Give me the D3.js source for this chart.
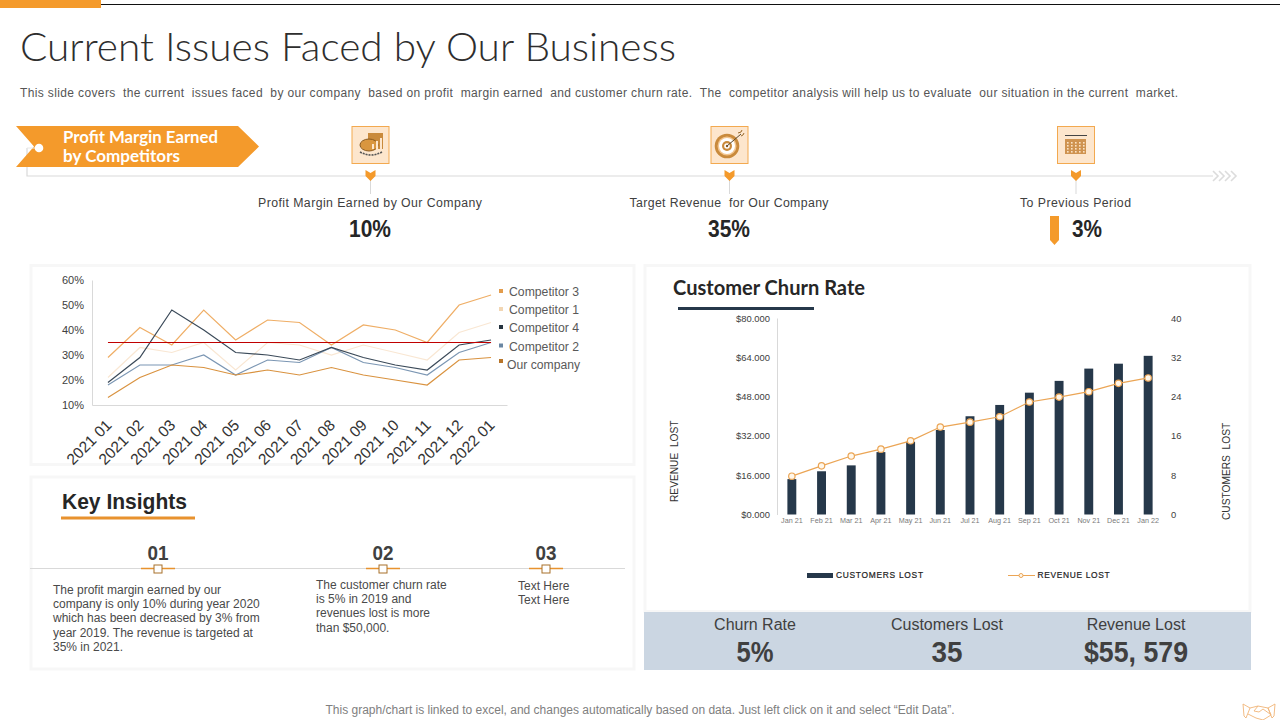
<!DOCTYPE html>
<html>
<head>
<meta charset="utf-8">
<script src="https://cdn.jsdelivr.net/npm/d3@7"></script>
<style>
html, body { margin: 0; padding: 0; background: #fff; }
svg { display: block; font-family: "Liberation Sans", Arial, sans-serif; }
.geo { font-family: Lato, "Open Sans", sans-serif; }
.tick line { display: none; }
</style>
</head>
<body>
<div id="viz"></div>
<script>
// line chart data (percent)
const months = ["2021 01","2021 02","2021 03","2021 04","2021 05","2021 06","2021 07","2021 08","2021 09","2021 10","2021 11","2021 12","2022 01"];
const competitor1 = [21,33,31,35,24,35,34,30,34,31,28,39,43];
const competitor2 = [18,26,26,30,22,28,27,33,27,25,22,31,35];
const competitor3 = [29,41,34,48,36,44,43,34,42,40,35,50,54];
const competitor4 = [19,29,48,40,31,30,28,33,29,26,24,34,36];
const ourCompany = [13,21,26,25,22,24,22,25,22,20,18,28,29];
const targetLine = [35,35,35,35,35,35,35,35,35,35,35,35,35];
const percentTicks = [10,20,30,40,50,60];

// churn chart data
const churnMonths = ["Jan 21","Feb 21","Mar 21","Apr 21","May 21","Jun 21","Jul 21","Aug 21","Sep 21","Oct 21","Nov 21","Dec 21","Jan 22"];
const customersLost = [7.2,8.8,10,12.7,14.8,17.2,20,22.3,24.8,27.2,29.7,30.7,32.3];
const revenueLost = [15.6,19.8,23.8,26.6,30,35.6,37.6,39.8,45.8,47.8,50,53.4,55.6];
const revenueTicks = [0,16,32,48,64,80];
const customerTicks = [0,8,16,24,32,40];

// text blocks
const kpiLabels = ["Profit Margin Earned by Our Company","Target Revenue  for Our Company","To Previous Period"];
const kpiValues = ["10%","35%","3%"];
const insightNumbers = ["01","02","03"];
const insightText = [
  ["The profit margin earned by our","company is only 10% during year 2020","which has been decreased by 3% from","year 2019. The revenue is targeted at","35% in 2021."],
  ["The customer churn rate","is 5% in 2019 and","revenues lost is more","than $50,000."],
  ["Text Here","Text Here"]
];
const summaryLabels = ["Churn Rate","Customers Lost","Revenue Lost"];
const summaryValues = ["5%","35","$55, 579"];

const orange = "#f49a2b";
const navy = "#26384a";

const svg = d3.select("#viz").append("svg").attr("width", 1280).attr("height", 720);

function label(x, y, str, size, o) {
  o = o || {};
  const t = svg.append("text").attr("x", x).attr("y", y).text(str)
    .attr("font-size", size)
    .attr("fill", o.fill || "#404040")
    .attr("font-weight", o.weight || 400)
    .attr("text-anchor", o.anchor || "start");
  if (o.cls) t.attr("class", o.cls);
  if (o.len) t.attr("textLength", o.len);
  if (o.squeeze) t.attr("textLength", o.squeeze).attr("lengthAdjust", "spacingAndGlyphs");
  if (o.rotate) t.attr("transform", `rotate(${o.rotate} ${x} ${y})`);
  return t;
}

// top strip
svg.append("rect").attr("x", 0).attr("y", 0).attr("width", 101).attr("height", 8).attr("fill", orange);
svg.append("line").attr("x1", 101).attr("x2", 1280).attr("y1", 4.5).attr("y2", 4.5).attr("stroke", "#111").attr("stroke-width", 1);

label(20, 61, "Current Issues Faced by Our Business", 40, { cls: "geo", fill: "#2e2e2e", weight: 300, squeeze: 656 });
label(20, 97, "This slide covers  the current  issues faced  by our company  based on profit  margin earned  and customer churn rate.  The  competitor analysis will help us to evaluate  our situation in the current  market.", 12, { fill: "#555", len: 1158 }).attr("xml:space", "preserve");

// panels
[[31,265.5,603,199],[31,477,603,192],[645,265.5,605,346]].forEach(p => {
  svg.append("rect").attr("x", p[0]).attr("y", p[1]).attr("width", p[2]).attr("height", p[3])
    .attr("fill", "none").attr("stroke", "#f7f7f7").attr("stroke-width", 3);
});

// timeline
svg.append("path").attr("d", "M27 148V176H1213").attr("fill", "none").attr("stroke", "#d9d9d9").attr("stroke-width", 1.2);
[1213,1219,1225,1231].forEach(x => {
  svg.append("path").attr("d", `M${x} 171l5 5l-5 5`).attr("fill", "none").attr("stroke", "#dcdcdc").attr("stroke-width", 1.6);
});
svg.append("path").attr("d", "M16 126H238L259 146.5L238 167H16L34 146.5Z").attr("fill", orange);
svg.append("path").attr("d", "M27 148H35").attr("stroke", "#e8e8e8");
svg.append("circle").attr("cx", 39).attr("cy", 148).attr("r", 4.3).attr("fill", "#fff");
label(63, 143, "Profit Margin Earned", 17, { cls: "geo", fill: "#fff", weight: 700, squeeze: 155 });
label(63, 162, "by Competitors", 17, { cls: "geo", fill: "#fff", weight: 700, squeeze: 117 });

// KPI row
const kpiX = [370.5, 729.5, 1076];
kpiX.forEach((x, i) => {
  svg.append("rect").attr("x", x - 18.5).attr("y", 126.5).attr("width", 37).attr("height", 37)
    .attr("fill", "#fde6cd").attr("stroke", "#f3a94f").attr("stroke-width", 1);
  svg.append("line").attr("x1", x).attr("x2", x).attr("y1", 176).attr("y2", 194).attr("stroke", "#d9d9d9");
  svg.append("path").attr("d", `M${x-5} 170L${x} 173L${x+5} 170V176L${x} 181L${x-5} 176Z`).attr("fill", orange);
  if (i < 2) {
    label(x - 0.5, 207, kpiLabels[i], 12.3, { anchor: "middle", fill: "#404040", len: i == 0 ? 224 : 199 }).attr("xml:space", "preserve");
    label(x - 0.5, 237, kpiValues[i], 24, { anchor: "middle", fill: "#262626", weight: 700, squeeze: 42 });
  }
});
label(1075.5, 207, kpiLabels[2], 12.3, { anchor: "middle", fill: "#404040", len: 111 });
label(1072, 237, kpiValues[2], 24, { fill: "#262626", weight: 700, squeeze: 30 });
svg.append("path").attr("d", "M1050 216H1059V240L1054.5 245L1050 240Z").attr("fill", orange);

// icon 1: chart on coin stack
const ic1 = svg.append("g").attr("fill", "none");
ic1.append("rect").attr("x", 368).attr("y", 133).attr("width", 15).attr("height", 16).attr("fill", "#c98a3c");
ic1.append("ellipse").attr("cx", 369).attr("cy", 145).attr("rx", 9).attr("ry", 6).attr("fill", "#d9963f").attr("stroke", "#8a5a20");
[372,376,380].forEach((x, i) => ic1.append("rect").attr("x", x).attr("y", 144 - i * 3).attr("width", 2).attr("height", 5 + i * 3).attr("fill", "#fde6cd"));
ic1.append("path").attr("d", "M360 152Q371 158 382 152").attr("stroke", "#555").attr("stroke-width", 1.6).attr("stroke-dasharray", "2 1");
// icon 2: target
const ic2 = svg.append("g");
[[12.3,"#c98a3c"],[9.5,"#f3c58e"],[8,"#fff"],[5,"#c98a3c"],[2.8,"#fff"],[1.2,"#8a5a20"]].forEach(c => {
  ic2.append("circle").attr("cx", 727).attr("cy", 146).attr("r", c[0]).attr("fill", c[1]);
});
ic2.append("path").attr("d", "M727 146L741 134").attr("stroke", "#5a4a30").attr("stroke-width", 1);
ic2.append("path").attr("d", "M738 133l3 -1l1 -2M741 136l2 -1l1 -2").attr("stroke", "#9a6a2a").attr("fill", "none");
// icon 3: calendar
const ic3 = svg.append("g");
ic3.append("line").attr("x1", 1065).attr("x2", 1087).attr("y1", 135.5).attr("y2", 135.5).attr("stroke", "#444");
ic3.append("rect").attr("x", 1065).attr("y", 139).attr("width", 21).attr("height", 15).attr("fill", "#cf9350");
[1067,1071,1075,1079,1083].forEach(x => [142,145,148,151].forEach(y => {
  ic3.append("rect").attr("x", x).attr("y", y).attr("width", 1.6).attr("height", 1.6).attr("fill", "#fbe3c6");
}));

// ---- line chart ----
const x1 = d3.scalePoint().domain(months).range([92, 507]).padding(0.5);
const y1 = d3.scaleLinear().domain([10, 60]).range([405, 280]);
const gx1 = svg.append("g").attr("transform", "translate(0,405)").call(d3.axisBottom(x1).tickSize(0));
gx1.selectAll("text").attr("font-size", 15.5).attr("fill", "#333").attr("font-family", "Liberation Sans")
  .attr("text-anchor", "end").attr("dx", 0).attr("dy", 0)
  .attr("transform", "translate(2,19) rotate(-45)");
gx1.select(".domain").attr("stroke", "#d9d9d9");
const gy1 = svg.append("g").attr("transform", "translate(92,0)")
  .call(d3.axisLeft(y1).tickValues(percentTicks).tickSize(0).tickPadding(8).tickFormat(d => d + "%"));
gy1.selectAll("text").attr("font-size", 11).attr("fill", "#404040").attr("font-family", "Liberation Sans");
gy1.select(".domain").attr("stroke", "#d9d9d9");

const lineGen = d3.line().x((d, i) => x1(months[i])).y(d => y1(d));
const lineSeries = [
  { name: "Competitor 3", values: competitor3, color: "#efae66", key: "#e39c4c" },
  { name: "Competitor 1", values: competitor1, color: "#f9e7d3", key: "#f2d6b3" },
  { name: "Competitor 4", values: competitor4, color: "#3b4a59", key: "#25333f" },
  { name: "Competitor 2", values: competitor2, color: "#7b96b3", key: "#6a87a3" },
  { name: "Our company", values: ourCompany, color: "#d9923f", key: "#b8752a" }
];
[lineSeries[1], lineSeries[0], lineSeries[3], lineSeries[2], lineSeries[4]].forEach(s => {
  svg.append("path").attr("d", lineGen(s.values)).attr("fill", "none").attr("stroke", s.color).attr("stroke-width", 1.2);
});
svg.append("path").attr("d", lineGen(targetLine)).attr("fill", "none").attr("stroke", "#c00000").attr("stroke-width", 1.1);

const legendY = [291, 309, 327, 345.5, 361];
lineSeries.forEach((s, i) => {
  svg.append("rect").attr("x", 499).attr("y", legendY[i] - 2).attr("width", 4).attr("height", 4).attr("fill", s.key);
  label(i == 4 ? 507 : 509, legendY[i] + (i == 4 ? 8 : 5), s.name, 12, { fill: "#595959", squeeze: i == 4 ? 73 : 70 });
});

// ---- key insights ----
label(62, 509, "Key Insights", 22, { fill: "#262626", weight: 700, squeeze: 125 });
svg.append("rect").attr("x", 61).attr("y", 516.5).attr("width", 134).attr("height", 3).attr("fill", "#e8922e");
svg.append("line").attr("x1", 30).attr("x2", 625).attr("y1", 568.5).attr("y2", 568.5).attr("stroke", "#d9d9d9");
const insightX = [158, 383, 546];
const insightTextX = [53, 316, 518];
const insightTextY = [594, 589, 590];
insightX.forEach((x, i) => {
  svg.append("line").attr("x1", x - 17).attr("x2", x + 17).attr("y1", 568.5).attr("y2", 568.5).attr("stroke", "#e8922e").attr("stroke-width", 1.5);
  svg.append("rect").attr("x", x - 4).attr("y", 565).attr("width", 8).attr("height", 8).attr("fill", "#fff").attr("stroke", "#a8702a");
  label(x, 560, insightNumbers[i], 20, { anchor: "middle", weight: 700, squeeze: 21 });
  insightText[i].forEach((ln, j) => label(insightTextX[i], insightTextY[i] + j * 14.2, ln, 12, { fill: "#4a4a4a" }));
});

// ---- churn chart ----
label(673, 295, "Customer Churn Rate", 20, { cls: "geo", fill: "#262626", weight: 700, squeeze: 192 });
svg.append("rect").attr("x", 678).attr("y", 307).attr("width", 136).attr("height", 3).attr("fill", navy);

const x2 = d3.scaleBand().domain(churnMonths).range([777, 1163]).paddingInner(0.7).paddingOuter(0.35);
const yRev = d3.scaleLinear().domain([0, 80]).range([514.5, 318]);
const yCust = d3.scaleLinear().domain([0, 40]).range([514.5, 318]);

svg.selectAll("rect.bar").data(customersLost).enter().append("rect").attr("class", "bar")
  .attr("x", (d, i) => x2(churnMonths[i]))
  .attr("y", d => yCust(d))
  .attr("width", x2.bandwidth())
  .attr("height", d => yCust(0) - yCust(d))
  .attr("fill", navy);

const gx2 = svg.append("g").attr("transform", "translate(0,514.5)").call(d3.axisBottom(x2).tickSize(0).tickPadding(3));
gx2.select(".domain").remove();
gx2.selectAll("text").attr("font-size", 7.2).attr("fill", "#7a7a7a").attr("font-family", "Liberation Sans");

const gyL = svg.append("g").attr("transform", "translate(777,0)")
  .call(d3.axisLeft(yRev).tickValues(revenueTicks).tickSize(0).tickPadding(7).tickFormat(d => "$" + d + ".000"));
gyL.select(".domain").attr("stroke", "#d9d9d9");
gyL.selectAll("text").attr("font-size", 9.4).attr("fill", "#404040").attr("font-family", "Liberation Sans");

const gyR = svg.append("g").attr("transform", "translate(1163,0)")
  .call(d3.axisRight(yCust).tickValues(customerTicks).tickSize(0).tickPadding(8));
gyR.select(".domain").remove();
gyR.selectAll("text").attr("font-size", 9.4).attr("fill", "#404040").attr("font-family", "Liberation Sans");

const revLine = d3.line().x((d, i) => x2(churnMonths[i]) + x2.bandwidth() / 2).y(d => yRev(d));
svg.append("path").attr("d", revLine(revenueLost)).attr("fill", "none").attr("stroke", "#eba555").attr("stroke-width", 1.2);
svg.selectAll("circle.rev").data(revenueLost).enter().append("circle").attr("class", "rev")
  .attr("cx", (d, i) => x2(churnMonths[i]) + x2.bandwidth() / 2)
  .attr("cy", d => yRev(d))
  .attr("r", 3.2)
  .attr("fill", "#fff7ea")
  .attr("stroke", "#eba555")
  .attr("stroke-width", 1.2);

label(677.5, 502, "REVENUE  LOST", 10.2, { rotate: -90, fill: "#333" }).attr("xml:space", "preserve");
label(1229.5, 520, "CUSTOMERS  LOST", 10.2, { rotate: -90, fill: "#333" }).attr("xml:space", "preserve");

svg.append("rect").attr("x", 807).attr("y", 573).attr("width", 26).attr("height", 5).attr("fill", navy);
label(836, 578, "CUSTOMERS LOST", 8.4, { fill: "#222", len: 87 }).attr("stroke", "#222").attr("stroke-width", 0.2);
svg.append("line").attr("x1", 1008).attr("x2", 1035).attr("y1", 575.5).attr("y2", 575.5).attr("stroke", "#eba555");
svg.append("circle").attr("cx", 1021).attr("cy", 575.5).attr("r", 2).attr("fill", "#fff7ea").attr("stroke", "#eba555");
label(1037.5, 578, "REVENUE LOST", 8.4, { fill: "#222", len: 72 }).attr("stroke", "#222").attr("stroke-width", 0.2);

// summary band
svg.append("rect").attr("x", 644).attr("y", 612).attr("width", 607).attr("height", 58).attr("fill", "#cbd6e2");
const summaryX = [755, 947, 1136];
const summaryW = [37, 31, 104];
summaryX.forEach((x, i) => {
  label(x, 630, summaryLabels[i], 16, { anchor: "middle", fill: "#404040" });
  label(x, 662, summaryValues[i], 30, { anchor: "middle", fill: "#404040", weight: 700, squeeze: summaryW[i] });
});

// footer
label(640, 714, "This graph/chart is linked to excel,  and changes automatically based on data. Just left click on it and select “Edit Data”.", 12, { anchor: "middle", fill: "#808080", len: 629 });

// handshake mark
const hs = svg.append("g").attr("fill", "none").attr("stroke", "#f0b477").attr("stroke-width", 0.9);
hs.append("path").attr("d", "M1243 704L1250 708L1246 718L1244 716Z");
hs.append("path").attr("d", "M1275 704L1268 708L1272 718L1274 716Z");
hs.append("path").attr("d", "M1250 708L1258 706L1268 708L1271 715L1263 720L1256 718L1248 714");
hs.append("path").attr("d", "M1258 706L1254 711L1259 712L1263 709L1270 714");
</script>
</body>
</html>
